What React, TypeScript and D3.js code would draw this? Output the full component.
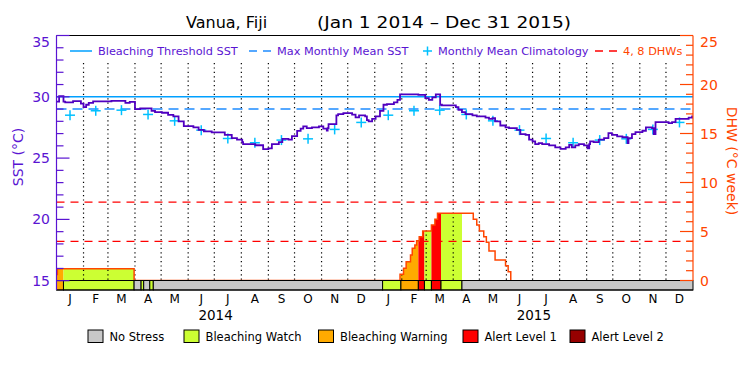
import React from "react";
import * as d3 from "d3";

const W = 750;
const H = 375;
const START = new Date(2014, 0, 1);
const END = new Date(2016, 0, 1);

const monthLabels = ["J", "F", "M", "A", "M", "J", "J", "A", "S", "O", "N", "D"];
const yearLabels = ["2014", "2015"];

// SST daily series break points (day offset from Jan 1 2014, value °C)
const sstDay = [
  0, 3, 8, 10, 19, 28, 31, 34, 37, 42, 63, 79, 84, 90, 96, 109, 113, 121, 128, 134,
  140, 146, 157, 163, 169, 178, 193, 201, 207, 213, 214, 228, 237, 243, 247, 255, 259, 266, 270, 276,
  280, 283, 287, 293, 301, 306, 310, 311, 312, 321, 323, 329, 339, 343, 347, 354, 356, 358, 362, 366,
  371, 375, 379, 387, 391, 394, 415, 423, 427, 431, 435, 440, 442, 458, 461, 465, 469, 477, 482, 492,
  496, 500, 503, 509, 515, 519, 528, 532, 538, 542, 546, 549, 553, 557, 565, 572, 578, 584, 588, 591,
  595, 599, 605, 609, 611, 612, 616, 622, 628, 633, 637, 643, 649, 655, 656, 660, 664, 672, 676, 683,
  685, 687, 702, 706, 710, 725, 729,
];
const sstValue = [
  29.6, 30.05, 29.6, 29.55, 29.65, 29.45, 29.15, 29.35, 29.5, 29.62, 29.67, 29.5, 29.58, 29.0, 29.05, 28.85, 28.75, 28.7, 28.53, 28.4,
  28.0, 27.6, 27.5, 27.3, 27.18, 27.1, 26.9, 26.63, 26.5, 26.3, 26.14, 26.05, 25.73, 25.8, 26.14, 26.3, 26.57, 26.5, 26.8, 27.22,
  27.4, 27.58, 27.45, 27.5, 27.58, 27.4, 27.25, 27.45, 27.77, 28.48, 28.59, 28.67, 28.55, 28.32, 28.48, 28.4, 28.1, 28.0, 28.2, 28.4,
  28.86, 29.35, 29.4, 29.55, 29.75, 30.2, 30.15, 29.9, 29.75, 29.95, 30.2, 29.35, 29.3, 29.15, 28.94, 28.75, 28.59, 28.48, 28.4, 28.3,
  28.2, 28.26, 28.0, 27.66, 27.5, 27.45, 27.3, 26.96, 26.9, 26.5, 26.36, 26.14, 26.22, 26.14, 26.03, 25.87, 25.76, 25.87, 26.08, 25.87,
  26.03, 26.14, 26.03, 25.8, 26.14, 26.36, 26.3, 26.5, 26.63, 27.04, 26.9, 26.77, 26.7, 26.22, 26.63, 26.96, 27.12, 27.23, 27.5, 27.45,
  26.96, 27.93, 27.85, 27.93, 28.2, 28.3, 28.4,
];

// Monthly mean climatology (°C), Jan..Dec
const climValue = [28.5, 28.86, 28.91, 28.56, 28.04, 27.28, 26.6, 26.25, 26.47, 26.57, 27.34, 27.91];
const mmmValue = 29.0;
const thresholdValue = 30.0;
const dhwRefLevels = [4, 8];

// Degree heating weeks break points (day offset, °C-weeks)
const dhwDay = [
  0, 1, 89, 394, 398, 401, 406, 408, 411, 413, 416, 420, 430, 434, 437, 478, 482, 485, 490, 493,
  496, 503, 515, 518, 521,
];
const dhwValue = [
  0.6, 1.2, 0, 0.63, 1.24, 1.92, 2.6, 3.28, 3.62, 4.06, 4.47, 5.05, 5.66, 6.24, 6.86, 6.24, 5.66, 5.05, 4.47, 3.9,
  3.0, 2.1, 1.5, 0.9, 0,
];

// Stress level periods (start day offset, level 0..4)
const stressStart = [0, 8, 89, 97, 100, 107, 111, 374, 395, 415, 422, 430, 441, 465];
const stressLevel = [2, 1, 0, 1, 0, 1, 0, 1, 2, 3, 1, 3, 1, 0];
const stressNames = ["No Stress", "Bleaching Watch", "Bleaching Warning", "Alert Level 1", "Alert Level 2"];
const stressColors = ["#c8c8c8", "#ccff33", "#ffaa00", "#ff0000", "#960000"];

const sstTicks = d3.range(15, 36, 1);
const dhwTicks = d3.range(0, 26, 1);

const FONT = "DejaVu Sans, Verdana, sans-serif";
const PURPLE = "#5a14d2";
const LINEPURPLE = "#5000c0";
const ORANGE = "#ff4500";

function dayToDate(d: number) {
  return d3.timeDay.offset(START, d);
}

export default function App() {
  const x0 = 56.5;
  const x1 = 693;
  const x = d3.scaleTime().domain([START, END]).range([x0, x1]);
  const ySST = d3.scaleLinear().domain([15, 35]).range([280.7, 35.5]);
  const yDHW = d3.scaleLinear().domain([0, 25]).range([280.5, 35.5]);
  const plotBottom = 290;
  const barTop = 280.5;

  const months = d3.timeMonth.range(START, END);
  const years = d3.timeYear.range(START, END);

  const sstPts = [...sstValue, sstValue[sstValue.length - 1]];
  const sstDays = [...sstDay, 730];
  const sstPath = d3
    .line<number>()
    .x((_, i) => x(dayToDate(sstDays[i])))
    .y((v) => ySST(v))
    .curve(d3.curveStepAfter)(sstPts);

  const dhwLine = d3
    .line<number>()
    .x((_, i) => x(dayToDate(dhwDay[i])))
    .y((v) => yDHW(v))
    .curve(d3.curveStepAfter);
  const dhwPath = dhwLine(dhwValue) || "";
  const dhwArea =
    d3
      .area<number>()
      .x((_, i) => x(dayToDate(dhwDay[i])))
      .y0(barTop)
      .y1((v) => yDHW(v))
      .curve(d3.curveStepAfter)(dhwValue) || "";

  const segs = stressStart.map((s, i) => {
    const e = i < stressStart.length - 1 ? stressStart[i + 1] : 730;
    return { a: x(dayToDate(s)), b: x(dayToDate(e)), level: stressLevel[i] };
  });

  const dotted = months.filter((m) => +m !== +START);

  const legendItems = [
    { type: "solid", color: "#00a0ff", text: "Bleaching Threshold SST", tc: PURPLE, x: 70 },
    { type: "dash", color: "#1e8cff", text: "Max Monthly Mean SST", tc: PURPLE, x: 249 },
    { type: "plus", color: "#00c0ff", text: "Monthly Mean Climatology", tc: PURPLE, x: 423 },
    { type: "dash", color: "#ff0000", text: "4, 8 DHWs", tc: ORANGE, x: 595 },
  ];
  const bottomLegendX = [88, 184, 318.5, 463, 570];

  return (
    <div style={{ position: "absolute", left: 0, top: 0 }}>
      <svg width={W} height={H} style={{ display: "block", background: "#fff" }} fontFamily={FONT}>
        <defs>
          {segs.map((s, i) => (
            <clipPath id={"seg" + i} key={i}>
              <rect x={s.a} y={30} width={s.b - s.a} height={260} />
            </clipPath>
          ))}
        </defs>
        {/* Title */}
        <text x={186} y={28} fontSize={16} fill="#000">Vanua, Fiji</text>
        <text x={317} y={28} fontSize={16} fill="#000" textLength={254} lengthAdjust="spacingAndGlyphs">
          (Jan 1 2014 – Dec 31 2015)
        </text>

        {/* DHW fill by stress level */}
        {segs.map((s, i) =>
          s.level > 0 ? (
            <path key={"f" + i} d={dhwArea} fill={stressColors[s.level]} clipPath={`url(#seg${i})`} />
          ) : null
        )}

        {/* month dotted lines */}
        {dotted.map((m, i) => (
          <line key={"d" + i} x1={x(m)} x2={x(m)} y1={63} y2={barTop} stroke="#000" strokeWidth={1.2} strokeDasharray="1.2,3.2" />
        ))}

        {/* reference lines */}
        <line x1={x0} x2={x1} y1={ySST(thresholdValue)} y2={ySST(thresholdValue)} stroke="#00a0ff" strokeWidth={1.5} />
        <line x1={x0} x2={x1} y1={ySST(mmmValue)} y2={ySST(mmmValue)} stroke="#1e8cff" strokeWidth={1.5} strokeDasharray="10,6" />
        {dhwRefLevels.map((l) => (
          <line key={"r" + l} x1={x0} x2={x1} y1={yDHW(l)} y2={yDHW(l)} stroke="#ff0000" strokeWidth={1.3} strokeDasharray="8,6" />
        ))}

        {/* DHW outline */}
        <path d={dhwPath} fill="none" stroke={ORANGE} strokeWidth={1.5} />

        {/* climatology crosses */}
        {years.map((yr, yi) =>
          climValue.map((v, mi) => {
            const ms = d3.timeMonth.offset(yr, mi);
            const me = d3.timeMonth.offset(yr, mi + 1);
            const cx = (x(ms) + x(me)) / 2;
            const cy = ySST(v);
            return (
              <g key={`c${yi}-${mi}`} stroke="#00c0ff" strokeWidth={1.5}>
                <line x1={cx - 5} x2={cx + 5} y1={cy} y2={cy} />
                <line x1={cx} x2={cx} y1={cy - 5} y2={cy + 5} />
              </g>
            );
          })
        )}

        {/* SST line */}
        <path d={sstPath || ""} fill="none" stroke={LINEPURPLE} strokeWidth={1.8} />

        {/* stress bar */}
        {segs.map((s, i) => (
          <rect key={"s" + i} x={s.a} y={barTop} width={s.b - s.a} height={plotBottom - barTop} fill={stressColors[s.level]} stroke="#000" strokeWidth={1} />
        ))}

        {/* frame */}
        <line x1={x0} x2={x1} y1={35.5} y2={35.5} stroke="#000" strokeWidth={1} />
        <line x1={x0} x2={x1} y1={plotBottom} y2={plotBottom} stroke="#000" strokeWidth={1} />

        {/* left axis */}
        <line x1={x0} x2={x0} y1={35.5} y2={plotBottom} stroke={PURPLE} strokeWidth={1.2} />
        {sstTicks.map((t) => (
          <line key={"lt" + t} x1={x0} x2={x0 + (t % 5 === 0 ? 13 : 7)} y1={ySST(t)} y2={ySST(t)} stroke={PURPLE} strokeWidth={1.2} />
        ))}
        {sstTicks.filter((t) => t % 5 === 0).map((t) => (
          <text key={"ll" + t} x={50} y={(t === 35 ? ySST(t) + 6 : ySST(t)) + 5} fontSize={14} fill={PURPLE} textAnchor="end">
            {t}
          </text>
        ))}
        <text transform="translate(23,157) rotate(-90)" fontSize={14} fill={PURPLE} textAnchor="middle">SST (°C)</text>

        {/* right axis */}
        <line x1={x1} x2={x1} y1={35.5} y2={barTop} stroke={ORANGE} strokeWidth={1.2} />
        {dhwTicks.map((t) => (
          <line key={"rt" + t} x1={x1 - (t % 5 === 0 ? 13 : 7)} x2={x1} y1={yDHW(t)} y2={yDHW(t)} stroke={ORANGE} strokeWidth={1.2} />
        ))}
        {dhwTicks.filter((t) => t % 5 === 0).map((t) => (
          <text key={"rl" + t} x={700} y={(t === 25 ? yDHW(t) + 6 : yDHW(t)) + 5} fontSize={14} fill={ORANGE}>
            {t}
          </text>
        ))}
        <text transform="translate(727,161) rotate(90)" fontSize={14} fill={ORANGE} textAnchor="middle">DHW (°C week)</text>

        {/* month labels */}
        {months.map((m, i) => {
          const me = d3.timeMonth.offset(m, 1);
          return (
            <text key={"m" + i} x={(x(m) + x(me)) / 2} y={303} fontSize={12} textAnchor="middle" fill="#000">
              {monthLabels[m.getMonth()]}
            </text>
          );
        })}
        {years.map((yr, i) => {
          const ye = d3.timeYear.offset(yr, 1);
          return (
            <text key={"y" + i} x={(x(yr) + x(ye)) / 2} y={320} fontSize={13.5} textAnchor="middle" fill="#000">
              {yearLabels[i]}
            </text>
          );
        })}

        {/* top legend */}
        {legendItems.map((it, i) => (
          <g key={"lg" + i}>
            {it.type === "solid" && <line x1={it.x} x2={it.x + 22} y1={51} y2={51} stroke={it.color} strokeWidth={1.5} />}
            {it.type === "dash" && (
              <line x1={it.x} x2={it.x + 24} y1={51} y2={51} stroke={it.color} strokeWidth={1.5} strokeDasharray="8,6" />
            )}
            {it.type === "plus" && (
              <g stroke={it.color} strokeWidth={1.5}>
                <line x1={it.x} x2={it.x + 9} y1={51} y2={51} />
                <line x1={it.x + 4.5} x2={it.x + 4.5} y1={46.5} y2={55.5} />
              </g>
            )}
            <text x={it.x + (it.type === "plus" ? 15 : 28)} y={55} fontSize={11.3} fill={it.tc}>
              {it.text}
            </text>
          </g>
        ))}

        {/* bottom legend */}
        {stressNames.map((n, i) => (
          <g key={"bl" + i}>
            <rect x={bottomLegendX[i]} y={330} width={15} height={12.5} fill={stressColors[i]} stroke="#000" strokeWidth={1} />
            <text x={bottomLegendX[i] + 21.5} y={341} fontSize={11.5} fill="#000">{n}</text>
          </g>
        ))}
      </svg>
    </div>
  );
}
